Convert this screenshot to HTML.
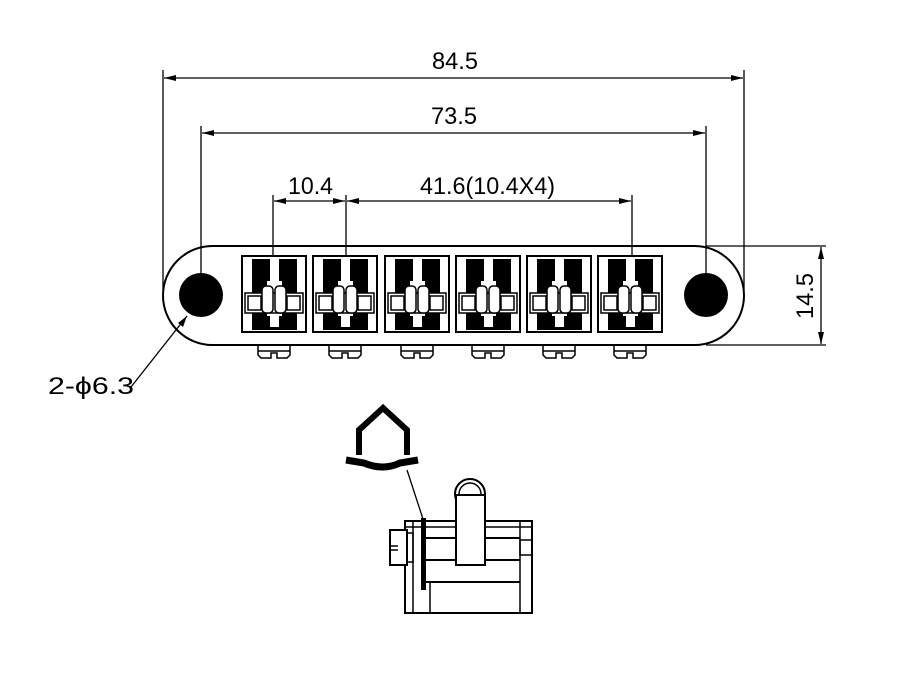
<!DOCTYPE html>
<html><head><style>body{margin:0;background:#fff}svg{display:block}text{font-family:"Liberation Sans",sans-serif;fill:#000}</style></head>
<body>
<svg width="907" height="674" viewBox="0 0 907 674" xmlns="http://www.w3.org/2000/svg">
<defs>
<marker id="a" markerWidth="12" markerHeight="6" refX="12" refY="3" orient="auto-start-reverse" markerUnits="userSpaceOnUse"><path d="M12,3 L0,0 L0,6 Z" fill="#000"/></marker>
<g id="sad">
<rect x="0" y="0" width="64" height="76" fill="#fff" stroke="#000" stroke-width="2"/>
<rect x="10" y="3" width="15" height="71" fill="#000"/>
<rect x="40" y="3" width="15" height="71" fill="#000"/>
<rect x="25" y="3" width="15" height="22" fill="#000"/>
<rect x="28" y="3" width="9" height="22" fill="#fff"/>
<rect x="25" y="60" width="15" height="14" fill="#000"/>
<rect x="28" y="60" width="9" height="11" fill="#fff"/>
<rect x="3" y="37" width="58" height="20" fill="#fff" stroke="#000" stroke-width="1.5"/>
<rect x="6" y="40" width="13" height="14" fill="#fff" stroke="#000" stroke-width="1.5"/>
<rect x="45" y="40" width="13" height="14" fill="#fff" stroke="#000" stroke-width="1.5"/>
<rect x="20" y="30" width="11" height="27" rx="4" fill="#fff" stroke="#000" stroke-width="1.5"/>
<rect x="33" y="30" width="11" height="27" rx="4" fill="#fff" stroke="#000" stroke-width="1.5"/>
</g>
<g id="scr" fill="#fff" stroke="#000" stroke-width="1.5">
<path d="M-16,0 L-16,9 L-13,12 L-3,12 L-3,7 L3,7 L3,12 L13,12 L16,9 L16,0"/>
<line x1="-16" y1="5" x2="16" y2="5"/>
</g>
</defs>
<g stroke="#000" stroke-width="1.3" fill="none">
<line x1="163" y1="70" x2="163" y2="290"/>
<line x1="744" y1="70" x2="744" y2="290"/>
<line x1="164" y1="78" x2="743" y2="78" marker-start="url(#a)" marker-end="url(#a)"/>
<line x1="201" y1="126" x2="201" y2="295"/>
<line x1="706" y1="126" x2="706" y2="295"/>
<line x1="202" y1="133" x2="705" y2="133" marker-start="url(#a)" marker-end="url(#a)"/>
<line x1="273" y1="195" x2="273" y2="296"/>
<line x1="346" y1="195" x2="346" y2="296"/>
<line x1="632" y1="195" x2="632" y2="296"/>
<line x1="274" y1="201" x2="345" y2="201" marker-start="url(#a)" marker-end="url(#a)"/>
<line x1="347" y1="201" x2="631" y2="201" marker-start="url(#a)" marker-end="url(#a)"/>
<line x1="706" y1="246" x2="826" y2="246"/>
<line x1="706" y1="345" x2="826" y2="345"/>
<line x1="821" y1="247" x2="821" y2="344" marker-start="url(#a)" marker-end="url(#a)"/>
</g>
<rect x="163" y="246" width="581" height="99" rx="49.5" fill="none" stroke="#000" stroke-width="2"/>
<circle cx="201" cy="295" r="22" fill="#000"/>
<circle cx="706" cy="295" r="22" fill="#000"/>
<line x1="187" y1="316" x2="131" y2="387" stroke="#000" stroke-width="1.3"/>
<path d="M187,316 L178,323 L183,327 Z" fill="#000"/>
<use href="#sad" x="242" y="256"/>
<use href="#sad" x="313" y="256"/>
<use href="#sad" x="385" y="256"/>
<use href="#sad" x="456" y="256"/>
<use href="#sad" x="527" y="256"/>
<use href="#sad" x="598" y="256"/>
<use href="#scr" x="274" y="346"/>
<use href="#scr" x="345" y="346"/>
<use href="#scr" x="417" y="346"/>
<use href="#scr" x="488" y="346"/>
<use href="#scr" x="559" y="346"/>
<use href="#scr" x="630" y="346"/>
<text x="432" y="69" font-size="24" textLength="46" lengthAdjust="spacingAndGlyphs">84.5</text>
<text x="431" y="124" font-size="24" textLength="46" lengthAdjust="spacingAndGlyphs">73.5</text>
<text x="288" y="194" font-size="24" textLength="45" lengthAdjust="spacingAndGlyphs">10.4</text>
<text x="420" y="194" font-size="24" textLength="135" lengthAdjust="spacingAndGlyphs">41.6(10.4X4)</text>
<text x="0" y="0" font-size="24" textLength="46" lengthAdjust="spacingAndGlyphs" transform="translate(813,319) rotate(-90)">14.5</text>
<text x="48" y="394" font-size="24" textLength="86" lengthAdjust="spacingAndGlyphs">2-ϕ6.3</text>
<!-- side view -->
<g stroke="#000" fill="none">
<path d="M359,455 L359,430 L383,408 L407,430 L407,455" stroke-width="6" stroke-linejoin="miter"/>
<path d="M346,460 L364,463 Q383,471 400,463 L418,460" stroke-width="7"/>
<line x1="407" y1="470" x2="423" y2="519" stroke-width="1.3"/>
<circle cx="470" cy="494" r="15" stroke-width="2"/>
<circle cx="470" cy="494" r="11" stroke-width="1.5"/>
<rect x="405" y="521" width="127" height="92" stroke-width="2" fill="#fff"/>
<line x1="405" y1="527" x2="532" y2="527" stroke-width="1.5"/>
<line x1="425" y1="538" x2="520" y2="538" stroke-width="2"/>
<line x1="425" y1="560" x2="520" y2="560" stroke-width="2"/>
<line x1="425" y1="582" x2="520" y2="582" stroke-width="2"/>
<line x1="413" y1="521" x2="413" y2="613" stroke-width="1.5"/>
<line x1="520" y1="521" x2="520" y2="613" stroke-width="1.5"/>
<line x1="430" y1="582" x2="430" y2="613" stroke-width="1.5"/>
<rect x="456" y="495" width="29" height="70" stroke-width="2" fill="#fff"/>
<rect x="390" y="530" width="17" height="35" stroke-width="2" fill="#fff"/>
<line x1="390" y1="546" x2="398" y2="546" stroke-width="1.5"/>
<line x1="390" y1="550" x2="398" y2="550" stroke-width="1.5"/>
<rect x="407" y="533" width="6" height="29" stroke-width="1.5"/>
<rect x="520" y="540" width="12" height="15" stroke-width="1.5"/>
</g>
<rect x="421" y="518" width="5" height="72" fill="#000"/>
</svg>
</body></html>
